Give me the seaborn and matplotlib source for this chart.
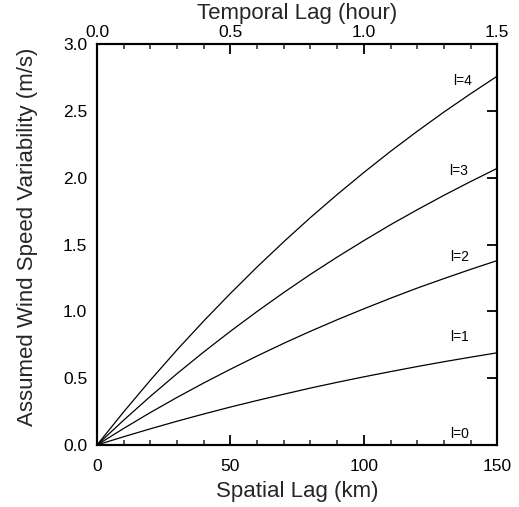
import numpy as np
import pandas as pd
import matplotlib
matplotlib.use("Agg")
import matplotlib.pyplot as plt
import seaborn as sns
from matplotlib.ticker import MultipleLocator, FormatStrFormatter

# Data
spatial_lag_km = [0, 10, 20, 30, 40, 50, 60, 70, 80, 90, 100, 110, 120, 130, 140, 150]
l0 = [0.0] * 16
l1 = [0, 0.062, 0.121, 0.178, 0.232, 0.284, 0.333, 0.380, 0.426, 0.469, 0.510, 0.549, 0.587, 0.623, 0.657, 0.690]
l2 = [0, 0.124, 0.243, 0.356, 0.464, 0.567, 0.666, 0.761, 0.851, 0.937, 1.019, 1.098, 1.174, 1.245, 1.314, 1.380]
l3 = [0, 0.186, 0.364, 0.534, 0.696, 0.851, 0.999, 1.141, 1.277, 1.406, 1.529, 1.648, 1.760, 1.868, 1.971, 2.070]
l4 = [0, 0.248, 0.485, 0.712, 0.928, 1.134, 1.332, 1.521, 1.702, 1.874, 2.039, 2.197, 2.347, 2.491, 2.628, 2.760]
curve_labels = ["l=0", "l=1", "l=2", "l=3", "l=4"]
label_x = [136, 136, 136, 135.5, 137]
label_y = [0.08, 0.81, 1.41, 2.05, 2.72]
temporal_ticks = [0.0, 0.5, 1.0, 1.5]

series = [l0, l1, l2, l3, l4]
df = pd.concat([
    pd.DataFrame({"x": spatial_lag_km, "y": vals, "curve": name})
    for name, vals in zip(curve_labels, series)
])

sns.set_theme(style="white")
plt.rcParams['font.family'] = ['Liberation Sans', 'DejaVu Sans']

fig = plt.figure(figsize=(5.19, 5.07), dpi=100)
ax = fig.add_axes([0.1869, 0.1223, 0.9582 - 0.1869, 0.9132 - 0.1223])

sns.lineplot(data=df, x="x", y="y", hue="curve", palette=["black"] * 5,
             linewidth=0.9, legend=False, ax=ax, sort=False)

for name, xv, yv in zip(curve_labels, label_x, label_y):
    ax.text(xv, yv, name, fontsize=10, ha="center", va="center", color="black")

ax.set_xlim(0, 150)
ax.set_ylim(0, 3.0)
ax.xaxis.set_major_locator(MultipleLocator(50))
ax.xaxis.set_minor_locator(MultipleLocator(10))
ax.yaxis.set_major_locator(MultipleLocator(0.5))
ax.yaxis.set_major_formatter(FormatStrFormatter('%.1f'))
ax.set_xlabel("Spatial Lag (km)", fontsize=16, labelpad=5)
ax.set_ylabel("Assumed Wind Speed Variability (m/s)", fontsize=16, labelpad=18)
ax.yaxis.label.set_y(0.52)

for s in ax.spines.values():
    s.set_linewidth(1.5)
    s.set_color("black")

ax.tick_params(axis="both", which="major", direction="in", length=7, width=1.3,
               labelsize=12.5, colors="black", top=False, right=True)
ax.tick_params(axis="x", which="major", pad=10)
ax.tick_params(axis="y", which="major", pad=7)
ax.tick_params(axis="x", which="minor", direction="in", length=3.5, width=1.1, bottom=True)

ax2 = ax.twiny()
ax2.set_xlim(0, 1.5)
ax2.set_xticks(temporal_ticks)
ax2.xaxis.set_major_formatter(FormatStrFormatter('%.1f'))
ax2.xaxis.set_minor_locator(MultipleLocator(0.1))
ax2.tick_params(axis="x", which="major", direction="in", length=7, width=1.3,
                labelsize=12.5, pad=3, colors="black")
ax2.tick_params(axis="x", which="minor", direction="in", length=3.5, width=1.1, top=True)
ax2.set_xlabel("Temporal Lag (hour)", fontsize=16, labelpad=4)
for s in ax2.spines.values():
    s.set_linewidth(1.5)
    s.set_color("black")

fig.savefig("out.png", dpi=100)
